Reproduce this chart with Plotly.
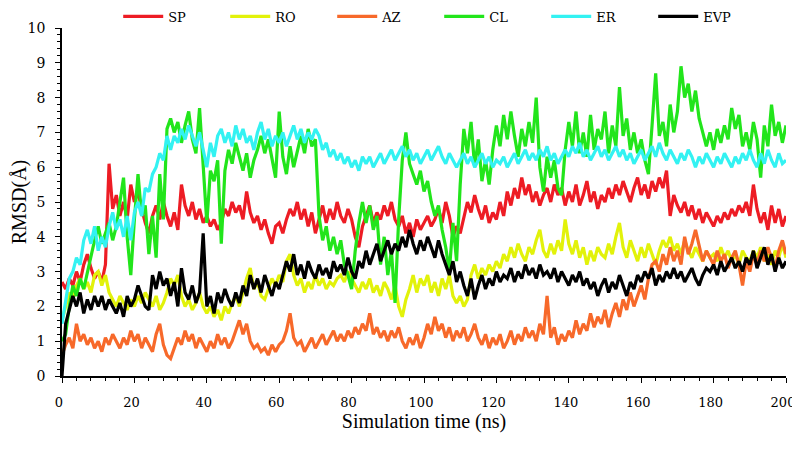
import plotly.graph_objects as go

# simulation time, ns (1 ns sampling)
time_ns = list(range(0, 201))

sp = [
    2.7, 2.5, 2.8, 2.6, 3.0, 2.7, 3.2, 3.5, 3.1, 2.8,
    3.0, 2.7, 3.2, 6.1, 4.8, 5.2, 4.6, 5.0, 4.5, 5.5,
    5.0, 5.3, 4.8, 4.4, 4.1, 4.6, 4.9, 4.5, 5.0, 4.6,
    4.3, 4.7, 4.2, 5.5, 4.9, 4.6, 5.0, 4.5, 4.8, 4.4,
    4.6, 4.3, 4.5, 4.2, 4.4, 4.8, 4.6, 5.0, 4.7, 4.9,
    4.5, 5.3, 4.7, 4.4, 4.6, 4.2, 4.5, 4.1, 3.8, 4.3,
    4.4, 4.1, 4.5, 4.8, 4.6, 5.0, 4.5, 4.8, 4.3, 4.7,
    4.1, 4.5, 4.9, 4.4, 4.8, 4.5, 5.0, 4.6, 4.4, 4.8,
    4.5, 4.0, 3.7, 4.3, 4.6, 4.9, 4.4, 4.7, 4.5, 4.9,
    4.6, 5.0, 4.5, 4.3, 4.6, 4.1, 4.4, 4.0, 4.5, 4.2,
    4.4, 4.6, 4.3, 4.5, 4.8, 4.4, 5.0, 4.6, 4.0, 4.3,
    4.1, 4.6, 5.0, 4.7, 5.2, 4.8, 4.5, 4.9, 4.4, 4.7,
    4.5, 5.0, 4.6, 5.3, 4.9, 5.4, 5.1, 5.7, 5.2, 5.5,
    5.0, 5.3, 4.9, 5.2, 5.4, 5.0, 5.5, 5.2, 5.4, 4.9,
    5.3, 5.0, 5.5, 4.9, 5.2, 5.6, 5.0, 5.3, 4.8, 5.2,
    5.0, 5.4, 5.1, 5.5, 5.2, 5.6, 5.3, 5.0, 5.4, 5.7,
    5.2, 5.5, 5.1, 5.6, 5.3, 5.7, 5.4, 5.9, 4.6, 5.2,
    4.9, 4.7, 5.0, 4.6, 4.9, 4.5, 4.8, 4.4, 4.7, 4.5,
    4.3, 4.6, 4.4, 4.7, 4.5, 4.8, 4.6, 4.9, 4.7, 5.0,
    4.6, 5.5, 4.8, 4.4, 4.7, 4.2, 4.9, 4.4, 4.8, 4.3,
    4.6,
]

ro = [
    1.6, 2.0, 2.4, 2.2, 2.6, 2.8, 2.5, 2.7, 2.4, 2.9,
    3.0, 2.6, 2.9, 2.4, 2.2, 2.0, 2.3, 2.1, 1.9, 2.2,
    2.0, 2.3, 2.1, 2.4, 2.2, 2.0, 2.3, 1.9, 2.1, 2.4,
    2.8, 2.6, 2.9, 2.3, 2.0, 2.2, 1.9, 2.1, 2.4, 2.0,
    1.8, 2.0, 1.7, 1.9, 1.6, 2.0, 1.8, 2.1, 2.3, 2.0,
    2.4, 2.8, 3.1, 2.5, 2.7, 2.3, 2.2, 2.5, 2.8, 2.6,
    2.9, 2.7, 3.3, 3.5, 2.9, 2.6, 2.8, 2.4, 2.7, 2.5,
    2.9, 2.6, 2.8, 2.5, 2.7, 2.6, 2.8, 2.9, 2.7, 3.0,
    2.8, 2.6, 2.4, 2.7, 2.5, 2.8, 2.4, 2.6, 2.3, 2.7,
    2.5, 2.2, 2.6, 2.0, 1.7, 2.2, 2.5, 2.9, 2.4, 2.8,
    2.6, 2.9, 2.4, 2.7, 2.3, 2.8, 2.5, 2.9, 2.3, 2.1,
    2.3, 2.0, 2.2, 2.9, 3.2, 2.8, 3.1, 2.9, 3.2, 3.0,
    3.3, 3.1, 3.5, 3.3, 3.7, 3.4, 3.8, 3.5, 3.3, 3.7,
    3.5, 3.9, 4.2, 3.6, 3.4, 3.8, 3.5, 3.9, 3.6, 4.5,
    3.8, 3.5, 3.9, 3.4, 3.7, 3.2, 3.6, 3.3, 3.7, 3.5,
    3.4, 3.8, 3.5, 4.0, 4.4, 3.7, 3.4, 3.9, 3.6, 3.3,
    3.7, 3.4, 3.8, 3.5, 3.2, 3.6, 3.9, 3.7, 4.0, 3.6,
    3.8, 3.5, 3.9, 3.6, 3.4, 3.7, 3.5, 3.3, 3.6, 3.4,
    3.5, 3.3, 3.7, 3.4, 3.6, 3.3, 3.5, 3.2, 3.6, 3.4,
    3.3, 3.6, 3.4, 3.7, 3.3, 3.5, 3.2, 3.6, 3.4, 3.8,
    3.4,
]

az = [
    0.6, 0.9, 1.1, 0.8, 1.5, 1.0, 1.2, 0.9, 1.1, 0.8,
    1.0, 0.7, 1.1, 0.9, 1.2, 1.0, 0.8, 1.1, 0.9, 1.3,
    1.0, 1.2, 0.8, 1.1, 0.9, 0.7, 1.2, 1.5, 0.9, 0.6,
    0.5, 0.8, 1.1, 0.9, 1.3, 1.0, 1.2, 0.8, 1.1, 0.9,
    0.7, 1.0, 0.8, 1.2, 0.9, 1.1, 0.8, 1.0, 1.3, 1.6,
    1.2, 1.5, 1.0, 0.8, 0.9, 0.7, 0.8, 0.6, 0.9, 0.7,
    0.9, 1.0, 1.3, 1.8, 1.1, 0.9, 1.0, 0.7, 0.9, 1.1,
    0.8, 1.0, 1.2, 0.9, 1.1, 1.3, 1.0, 1.2, 1.0, 1.3,
    1.1, 1.4, 1.2, 1.5, 1.3, 1.8, 1.2, 1.4, 1.1, 1.3,
    1.0, 1.3, 1.1, 1.4, 1.0, 0.8, 1.1, 0.9, 1.2, 0.8,
    1.1, 1.5, 1.2, 1.7, 1.3, 1.5, 1.1, 1.4, 1.0, 1.3,
    1.1, 1.4, 1.0, 1.2, 1.5, 1.1, 0.9, 1.2, 0.8, 1.1,
    0.9, 1.2, 0.8, 1.0, 1.3, 0.9, 1.2, 1.0, 1.4, 1.1,
    1.3, 1.0, 1.5, 1.2, 2.3, 1.1, 1.4, 0.9, 1.2, 1.0,
    1.3, 1.1, 1.6, 1.2, 1.5, 1.3, 1.8, 1.4, 1.7, 1.5,
    1.9, 1.4, 1.8, 2.1, 1.7, 2.2, 1.9, 2.4, 2.0, 2.3,
    2.6, 2.2, 2.8, 3.2, 3.3, 3.0, 3.5, 3.2, 3.7, 3.3,
    3.6, 3.2, 4.0, 3.5, 3.8, 4.2, 3.7, 3.3, 3.6, 3.4,
    3.2, 3.6, 3.3, 3.5, 3.1, 3.4, 3.6, 3.2, 2.6, 3.3,
    3.0, 3.5, 3.2, 3.6, 3.3, 3.7, 3.4, 3.1, 3.6, 3.9,
    3.5,
]

cl = [
    1.0, 1.2, 2.0, 2.6, 2.3, 2.8, 2.5, 3.0, 3.4, 3.9,
    4.3, 3.8, 4.1, 4.4, 3.9, 4.3, 5.0, 5.7, 4.0, 2.9,
    4.5, 5.8, 4.6, 4.9, 3.5, 4.6, 3.4, 5.8, 4.5, 7.1,
    7.4, 7.0, 7.3, 6.7, 7.2, 7.6, 6.8, 6.4, 7.7, 6.2,
    4.4, 5.9, 5.6, 6.2, 3.8, 5.9, 6.5, 6.1, 6.7, 6.3,
    5.9, 6.4, 5.7, 6.2, 6.5, 6.9, 6.4, 6.8, 6.3, 5.7,
    7.6, 6.3, 5.8, 6.6, 6.0, 6.5, 6.9, 6.4, 7.1, 6.6,
    6.8, 4.6, 3.9, 4.3, 3.6, 4.0, 3.5, 3.9, 3.2, 2.9,
    2.5, 3.6, 4.4, 5.0, 4.4, 4.9, 4.2, 4.6, 3.2, 4.0,
    2.9, 3.6, 2.1, 4.5, 6.2, 7.0, 6.1, 5.8, 5.5, 5.9,
    5.3, 5.6, 5.0, 4.6, 4.9, 4.2, 3.7, 3.0, 4.4, 3.3,
    5.5, 7.1, 6.4, 7.3, 6.0, 6.8, 5.6, 6.2, 5.5, 6.5,
    7.2, 6.6, 7.5, 6.8, 7.6, 6.9, 6.3, 7.1, 6.6, 7.3,
    6.7, 8.0, 6.0, 5.3, 6.3, 5.7, 6.2, 5.4, 5.2, 6.5,
    7.3, 6.6, 7.6, 6.4, 7.0, 6.3, 7.5, 6.5, 7.1, 6.8,
    7.6, 6.4, 7.2, 6.6, 8.3, 6.9, 7.4, 6.5, 7.0, 6.4,
    6.8, 6.2, 5.8, 7.2, 8.7, 6.9, 7.3, 6.6, 7.8, 7.0,
    7.6, 8.9, 8.0, 8.4, 7.6, 8.2, 7.4, 7.0, 6.6, 7.0,
    6.5, 7.1, 6.7, 7.2, 6.8, 7.7, 7.1, 7.5, 6.6, 7.0,
    6.5, 7.3, 6.8, 5.7, 7.2, 6.6, 7.8, 6.9, 7.3, 6.7,
    7.2,
]

er = [
    1.5, 2.2, 2.8, 3.0, 3.4, 3.2, 3.9, 4.2, 3.8, 4.3,
    3.6, 4.0, 3.7, 4.3, 4.7, 4.2, 4.5, 4.0, 4.6, 3.9,
    4.7, 5.0, 4.6, 5.4, 5.3, 5.8, 6.0, 6.4, 6.2, 6.9,
    6.5, 6.9, 6.7, 7.1, 6.8, 7.2, 6.9, 6.6, 7.0, 6.5,
    6.0, 6.7, 6.3, 6.9, 7.1, 6.7, 7.0, 6.6, 7.2, 6.8,
    7.1, 6.7, 6.9, 6.5, 7.0, 7.3, 6.8, 7.1, 6.6, 6.9,
    6.7, 7.0, 6.6, 6.9, 7.2, 6.8, 7.1, 6.7, 7.0, 6.8,
    7.1, 6.9, 6.5, 6.7, 6.3, 6.5, 6.2, 6.4, 6.1, 6.3,
    6.0, 6.2, 5.9, 6.3, 6.1, 6.3, 6.0, 6.2, 6.4, 6.1,
    6.3, 6.5, 6.2, 6.4, 6.6, 6.3, 6.5, 6.2, 6.4, 6.1,
    6.3, 6.5, 6.2, 6.4, 6.6, 6.3, 6.1, 6.4, 6.2, 6.0,
    6.2, 6.4, 6.1, 6.3, 6.0, 6.2, 6.4, 6.1, 6.3, 6.0,
    6.2, 6.1, 6.3, 6.0, 6.2, 6.4, 6.1, 6.3, 6.5, 6.2,
    6.4, 6.2, 6.5, 6.3, 6.6, 6.2, 6.4, 6.1, 6.3, 6.5,
    6.3, 6.6, 6.4, 6.7, 6.3, 6.5, 6.2, 6.4, 6.6, 6.3,
    6.5, 6.2, 6.4, 6.6, 6.3, 6.5, 6.2, 6.4, 6.1, 6.3,
    6.5, 6.2, 6.4, 6.6, 6.3, 6.7, 6.4, 6.2, 6.5, 6.3,
    6.1, 6.4, 6.2, 6.5, 6.3, 6.0, 6.3, 6.1, 6.4, 6.2,
    6.0, 6.3, 6.1, 6.4, 6.2, 6.0, 6.3, 6.1, 6.4, 6.2,
    6.5, 6.2, 6.0, 6.4, 6.1, 6.5, 6.2, 6.0, 6.4, 6.1,
    6.2,
]

evp = [
    0.0, 1.5, 1.9, 2.3, 2.0, 2.4, 1.8, 2.2, 1.9, 2.3,
    2.0, 2.3, 1.9, 2.2, 2.0, 1.8, 2.1, 1.7, 2.3, 2.0,
    2.2, 2.6, 2.3, 2.0, 1.9, 2.9, 2.5, 3.0, 2.6, 2.8,
    2.3, 2.7, 2.0, 3.1, 2.4, 2.2, 2.6, 2.1, 2.4, 4.1,
    2.0, 2.3, 1.8, 2.4, 2.1, 2.5, 2.2, 2.0, 2.4, 2.1,
    2.6, 2.3, 2.9, 2.5, 2.8, 2.4, 2.9, 2.6, 2.3, 2.7,
    2.5, 2.9, 3.3, 3.0, 3.5, 2.9, 3.2, 2.8, 3.3, 3.0,
    2.8, 3.2, 2.9, 3.1, 2.8, 3.3, 3.0, 3.2, 2.9, 3.4,
    3.0, 2.8, 3.3, 3.1, 3.6, 3.2, 3.5, 3.8, 3.3, 3.6,
    3.9, 3.5, 3.8, 3.6, 4.0, 3.7, 4.2, 3.8, 3.5, 3.9,
    3.6, 4.0, 3.7, 3.4, 3.9, 3.5, 3.2, 2.9, 3.3, 2.7,
    3.0, 2.6, 2.3, 2.8, 2.2, 2.6, 2.9, 2.5, 2.8, 2.6,
    3.0, 2.7, 2.9, 2.8, 3.1, 2.7, 3.0, 2.8, 3.2, 2.9,
    3.1, 2.8, 3.2, 2.9, 3.0, 2.8, 3.1, 2.7, 3.0, 2.8,
    2.6, 2.9, 2.7, 3.0, 2.6, 2.8, 2.5, 2.7, 2.3, 2.6,
    2.8, 2.4, 2.7, 2.5, 2.9, 2.6, 2.3, 2.7, 2.5, 2.9,
    2.7, 3.0, 2.8, 3.1, 2.6, 2.9, 2.7, 3.0, 2.8, 3.1,
    2.8, 3.0, 2.7, 2.9, 3.1, 2.8, 2.6, 2.9, 3.1, 3.0,
    3.2, 2.9, 3.3, 3.0, 3.2, 3.4, 3.1, 3.3, 3.0, 3.4,
    3.2, 3.6, 3.1, 3.4, 3.7, 3.2, 3.5, 3.0, 3.4, 3.1,
    3.3,
]

series = [
    ("SP", sp, "#ed1c24"),
    ("RO", ro, "#e2f20a"),
    ("AZ", az, "#f7692a"),
    ("CL", cl, "#22e51b"),
    ("ER", er, "#33f2f2"),
    ("EVP", evp, "#000000"),
]

FONT = "DejaVu Serif, Liberation Serif, serif"
TITLE_FONT = "Liberation Serif, DejaVu Serif, serif"

fig = go.Figure()
for name, values, color in series:
    fig.add_trace(
        go.Scatter(
            x=time_ns,
            y=values,
            mode="lines",
            name=name,
            line=dict(color=color, width=3.2),
        )
    )

# the page adds an 8px body margin, so size and margins leave room for it
fig.update_layout(
    width=792,
    height=468,
    paper_bgcolor="white",
    plot_bgcolor="white",
    font=dict(family=FONT, size=14, color="black"),
    margin=dict(l=54, r=14, t=20, b=100, autoexpand=False),
    showlegend=True,
    legend=dict(
        orientation="h",
        x=0.521,
        xanchor="center",
        y=0.99,
        yanchor="bottom",
        entrywidth=52,
        entrywidthmode="pixels",
        font=dict(size=13),
        itemwidth=40,
    ),
)
fig.update_xaxes(
    range=[0, 200],
    dtick=20,
    showgrid=False,
    zeroline=False,
    showline=True,
    linecolor="black",
    linewidth=1.5,
    ticks="outside",
    ticklen=5,
    tickcolor="black",
    tickfont=dict(size=13),
    ticklabelstandoff=9,
    ticklabelshift=-3,
    minor=dict(dtick=4, ticks="outside", ticklen=3, tickcolor="black", showgrid=False),
    title=dict(text="Simulation time (ns)", font=dict(family=TITLE_FONT, size=20), standoff=4),
)
fig.update_yaxes(
    range=[0, 10],
    dtick=1,
    showgrid=False,
    zeroline=False,
    showline=True,
    linecolor="black",
    linewidth=1.5,
    ticks="outside",
    ticklen=5,
    tickcolor="black",
    ticklabelstandoff=7,
    minor=dict(dtick=0.2, ticks="outside", ticklen=3, tickcolor="black", showgrid=False),
    title=dict(text="RMSD(Å)", font=dict(family=TITLE_FONT, size=20), standoff=11),
)

fig.write_html("out.html")
